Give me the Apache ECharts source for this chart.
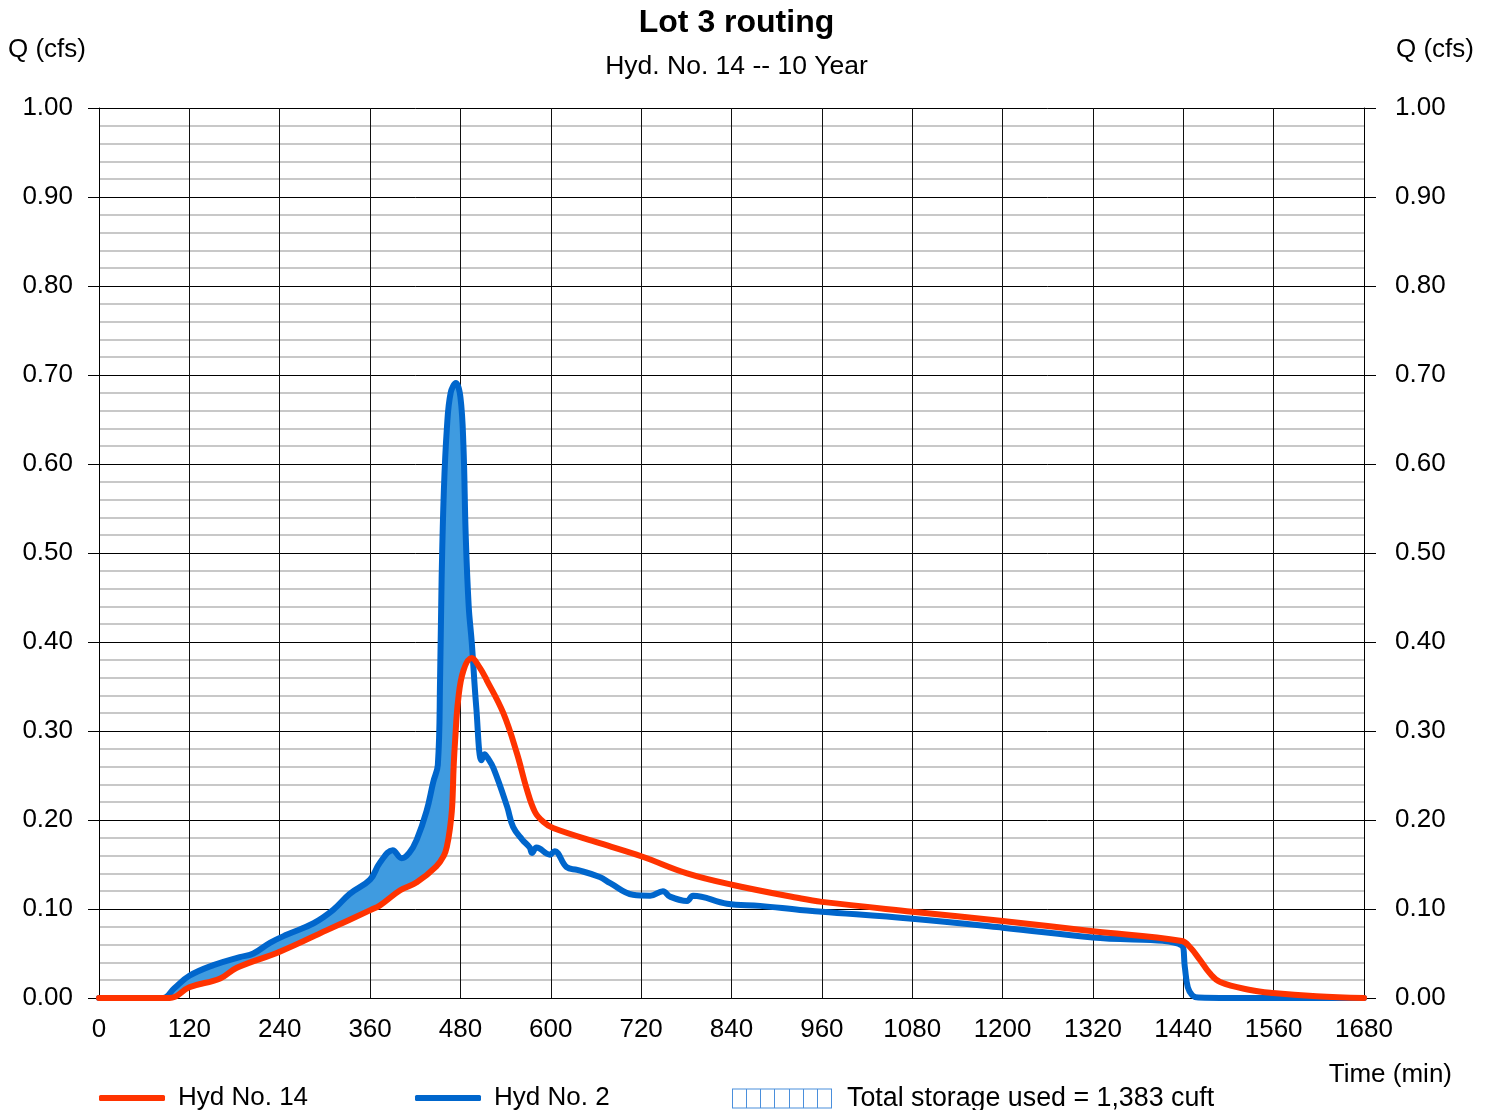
<!DOCTYPE html>
<html>
<head>
<meta charset="utf-8">
<title>Lot 3 routing</title>
<script src="https://cdn.jsdelivr.net/npm/echarts@6/dist/echarts.min.js"></script>
<style>
  html, body { margin: 0; padding: 0; background: #ffffff; }
  #chart { width: 1491px; height: 1110px; }
</style>
</head>
<body>
<div id="chart"></div>
<script>
// Outflow hydrograph (Hyd No. 14): time in minutes, flow in cfs
const hyd14Time = [0, 94, 120, 161, 183, 240, 302, 361, 373, 400, 422, 448, 458, 462, 466, 469, 471, 473, 477, 484, 495, 505, 515, 537, 555, 568, 579, 590, 603, 665, 721, 781, 842, 931, 960, 1080, 1200, 1320, 1438, 1449, 1462, 1475, 1489, 1529, 1559, 1617, 1680];
const hyd14Flow = [0, 0, 0.012, 0.022, 0.034, 0.052, 0.076, 0.099, 0.104, 0.121, 0.130, 0.148, 0.160, 0.170, 0.190, 0.215, 0.260, 0.290, 0.335, 0.368, 0.382, 0.372, 0.357, 0.320, 0.275, 0.235, 0.209, 0.198, 0.191, 0.174, 0.159, 0.140, 0.127, 0.112, 0.108, 0.097, 0.0865, 0.075, 0.064, 0.057, 0.043, 0.028, 0.018, 0.009, 0.0056, 0.002, 0];

// Inflow hydrograph (Hyd No. 2)
const hyd2Time = [0, 85, 100, 120, 152, 187, 205, 227, 249, 285, 311, 333, 360, 373, 390, 402, 412, 422, 435, 444, 450, 453, 455, 458, 462, 467, 474, 480, 484, 487, 491, 495, 501, 508, 512, 516, 524, 542, 550, 562, 572, 575, 581, 599, 605, 621, 635, 665, 679, 709, 732, 749, 758, 781, 789, 834, 878, 931, 960, 1080, 1200, 1320, 1438, 1442, 1446, 1452, 1460, 1500, 1680];
const hyd2Flow = [0, 0, 0.011, 0.025, 0.037, 0.046, 0.050, 0.062, 0.071, 0.084, 0.099, 0.117, 0.133, 0.152, 0.166, 0.157, 0.163, 0.178, 0.210, 0.243, 0.262, 0.360, 0.470, 0.570, 0.640, 0.680, 0.691, 0.675, 0.620, 0.520, 0.440, 0.400, 0.327, 0.267, 0.274, 0.270, 0.258, 0.215, 0.192, 0.178, 0.169, 0.163, 0.169, 0.161, 0.165, 0.147, 0.144, 0.136, 0.129, 0.116, 0.115, 0.120, 0.114, 0.109, 0.115, 0.106, 0.1035, 0.099, 0.097, 0.089, 0.079, 0.068, 0.059, 0.035, 0.012, 0.003, 0.0005, 0, 0];

// Storage window: inflow exceeds outflow between these times
const storageStart = 85;
const storageEnd = 495;

const xTicks = [0, 120, 240, 360, 480, 600, 720, 840, 960, 1080, 1200, 1320, 1440, 1560, 1680];
const yTicks = [0, 0.1, 0.2, 0.3, 0.4, 0.5, 0.6, 0.7, 0.8, 0.9, 1.0];

const storageLabel = 'Total storage used = 1,383 cuft';
const titleText = 'Lot 3 routing';
const subtitleText = 'Hyd. No. 14 -- 10 Year';

const RED = '#ff3300';
const BLUE = '#0066cc';
const FILL = '#3f9be0';
const FONT = 'Liberation Sans, Arial, sans-serif';
const FS = 26;

function pairs(ts, qs) { return ts.map((t, i) => [t, qs[i]]); }

const hyd14Data = pairs(hyd14Time, hyd14Flow);
const hyd2Data = pairs(hyd2Time, hyd2Flow);

// Polygon between inflow (upper) and outflow (lower) during storage
function storagePolygon() {
  const upper = hyd2Data.filter(p => p[0] >= storageStart && p[0] <= storageEnd);
  const lower = hyd14Data.filter(p => p[0] >= storageStart && p[0] <= storageEnd).reverse();
  return upper.concat(lower);
}

const chart = echarts.init(document.getElementById('chart'), null, { renderer: 'canvas' });

const yAxisCommon = {
  type: 'value',
  min: 0,
  max: 1,
  interval: 0.1,
  axisLine: { show: true, lineStyle: { color: '#000', width: 1 } },
  axisTick: { show: true, length: 11, lineStyle: { color: '#000', width: 1 } },
  axisLabel: {
    color: '#000', fontSize: FS, fontFamily: FONT,
    formatter: v => v.toFixed(2)
  }
};

const option = {
  backgroundColor: '#ffffff',
  animation: false,
  title: [
    { text: titleText, left: 731.5, top: 2, textAlign: 'center',
      textStyle: { fontSize: 32, fontWeight: 'bold', color: '#000', fontFamily: FONT } },
    { text: subtitleText, left: 731.5, top: 48, textAlign: 'center',
      textStyle: { fontSize: 26.5, fontWeight: 'normal', color: '#000', fontFamily: FONT } }
  ],
  grid: { left: 99, right: 127, top: 108, bottom: 112, containLabel: false },
  xAxis: {
    type: 'value',
    min: 0,
    max: 1680,
    interval: 120,
    axisLine: { show: true, onZero: false, lineStyle: { color: '#000', width: 1 } },
    axisTick: { show: false },
    axisLabel: { color: '#000', fontSize: FS, fontFamily: FONT, margin: 19,
      formatter: v => xTicks.includes(v) ? String(v) : '' },
    splitLine: { show: true, lineStyle: { color: '#111', width: 1 } }
  },
  yAxis: [
    Object.assign({}, yAxisCommon, {
      position: 'left',
      axisLabel: Object.assign({}, yAxisCommon.axisLabel, { margin: 26 }),
      splitLine: { show: true, lineStyle: { color: '#000', width: 1 } },
      minorTick: { show: false, splitNumber: 5 },
      minorSplitLine: { show: true, lineStyle: { color: '#c8c8c8', width: 2 } }
    }),
    Object.assign({}, yAxisCommon, {
      position: 'right',
      axisTick: { show: true, length: 12, lineStyle: { color: '#000', width: 1 } },
      axisLabel: Object.assign({}, yAxisCommon.axisLabel, { margin: 31 }),
      splitLine: { show: false }
    })
  ],
  legend: [
    { data: ['Hyd No. 14'], left: 99, top: 1085, padding: 0, icon: 'roundRect',
      itemWidth: 66, itemHeight: 6,
      textStyle: { fontSize: FS, color: '#000', fontFamily: FONT, padding: [0, 0, 0, 8] } },
    { data: ['Hyd No. 2'], left: 415, top: 1085, padding: 0, icon: 'roundRect',
      itemWidth: 66, itemHeight: 6,
      textStyle: { fontSize: FS, color: '#000', fontFamily: FONT, padding: [0, 0, 0, 8] } },
    { data: [{ name: storageLabel,
        icon: 'path://M0 0H100V1H0Z M0 19H100V20H0Z M0 0H1V20H0Z M99 0H100V20H99Z M14 0H15V20H14Z M28 0H29V20H28Z M42 0H43V20H42Z M57 0H58V20H57Z M71 0H72V20H71Z M85 0H86V20H85Z',
        itemStyle: { color: '#4a8fdc', borderWidth: 0 } }],
      left: 732, top: 1085, padding: 0, itemWidth: 100, itemHeight: 20,
      textStyle: { fontSize: 26.8, color: '#000', fontFamily: FONT, padding: [0, 0, 0, 10] } }
  ],
  graphic: [
    { type: 'text', left: 8, top: 37,
      style: { text: 'Q (cfs)', fontSize: FS, fill: '#000', fontFamily: FONT } },
    { type: 'text', right: 17, top: 37,
      style: { text: 'Q (cfs)', fontSize: FS, fill: '#000', fontFamily: FONT } },
    { type: 'text', right: 39, top: 1062,
      style: { text: 'Time (min)', fontSize: FS, fill: '#000', fontFamily: FONT } }
  ],
  series: [
    {
      name: storageLabel,
      type: 'custom',
      coordinateSystem: 'cartesian2d',
      xAxisIndex: 0,
      yAxisIndex: 0,
      z: 1,
      silent: true,
      itemStyle: { color: FILL },
      data: [[storageStart, 0]],
      renderItem: function (params, api) {
        const pts = storagePolygon().map(p => api.coord(p));
        return {
          type: 'polygon',
          shape: { points: pts, smooth: 0.25 },
          style: { fill: FILL, stroke: null }
        };
      }
    },
    {
      name: 'Hyd No. 2',
      type: 'line',
      data: hyd2Data,
      smooth: 0.4,
      showSymbol: false,
      symbol: 'none',
      z: 3,
      itemStyle: { color: BLUE },
      lineStyle: { color: BLUE, width: 6, cap: 'round', join: 'round' }
    },
    {
      name: 'Hyd No. 14',
      type: 'line',
      data: hyd14Data,
      smooth: 0.4,
      showSymbol: false,
      symbol: 'none',
      z: 4,
      itemStyle: { color: RED },
      lineStyle: { color: RED, width: 6, cap: 'round', join: 'round' }
    }
  ]
};

chart.setOption(option);
</script>
</body>
</html>
